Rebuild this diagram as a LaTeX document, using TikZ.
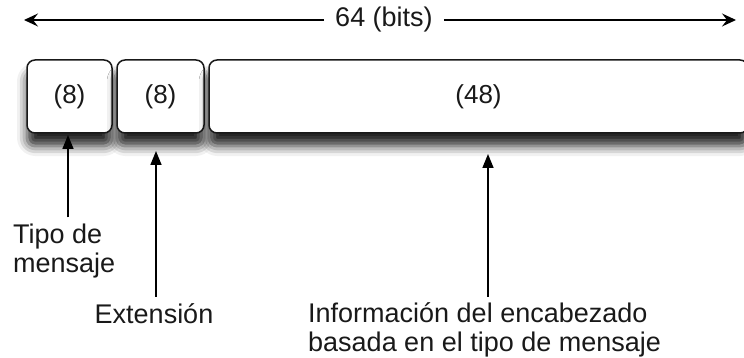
\documentclass[tikz,border=0pt]{standalone}
\usepackage{fontspec}
\setmainfont{Liberation Sans}
\usetikzlibrary{arrows.meta,shadows.blur}

\tikzset{
  field/.style={draw=black!90, line width=1.5pt, rounded corners=8pt, fill=white,
    minimum height=73pt, inner sep=0pt, text=black!90, font=\fontsize{26}{29}\selectfont,
    blur shadow={shadow xshift=0pt, shadow yshift=-13pt, shadow blur radius=10pt, shadow opacity=85}},
  pointer/.style={line width=1.6pt, shorten <=6pt, -{Triangle[length=14pt,width=11pt]}},
  span/.style={line width=1.3pt, -{Stealth[length=14pt,width=13pt,inset=5pt]}},
  lbl/.style={inner sep=0pt, text=black!90, font=\fontsize{27}{29}\selectfont}
}

\begin{document}
\begin{tikzpicture}[x=1pt,y=-1pt]
  \useasboundingbox (0,0) rectangle (744,358);
  % total width
  \node[lbl, inner xsep=11pt] (bits) at (384,20) {64 (bits)};
  \coordinate (leftend) at (24,20);
  \coordinate (rightend) at (736,20);
  \draw[span] (bits.west) -- (leftend);
  \draw[span] (bits.east) -- (rightend);

  % the three fields
  \node[field, minimum width=85pt] (tipo) at (69.5,96.5) {(8)};
  \node[field, minimum width=87pt] (ext) at (160.5,96.5) {(8)};
  \node[field, minimum width=539pt] (info) at (478.5,96.5) {(48)};

  % labels under the fields
  \node[lbl, align=left, anchor=north west] (tipolbl) at (13,223.5) {Tipo de\\mensaje};
  \node[lbl, anchor=base] (extlbl) at (154,323) {Extensión};
  \node[lbl, align=left, anchor=north west] (infolbl) at (308,302.5) {Información del encabezado\\basada en el tipo de mensaje};

  \coordinate (tipotip) at (68,135);
  \coordinate (exttip) at (156,151);
  \coordinate (infotip) at (488,154);
  \draw[pointer] (tipolbl.north -| tipotip) -- (tipotip);
  \draw[pointer] (extlbl.north -| exttip) -- (exttip);
  \draw[pointer] (infolbl.north -| infotip) -- (infotip);
\end{tikzpicture}
\end{document}
